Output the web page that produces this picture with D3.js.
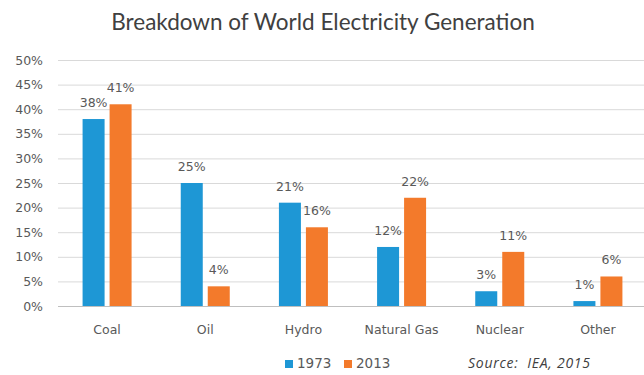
<!DOCTYPE html>
<html>
<head>
<meta charset="utf-8">
<script src="https://cdn.jsdelivr.net/npm/d3@7"></script>
<style>
  html, body { margin: 0; padding: 0; background: #fff; }
  svg { display: block; }
</style>
</head>
<body>
<svg id="chart" width="644" height="375"></svg>
<script>
// World electricity generation shares by source (percent)
const categories = ["Coal", "Oil", "Hydro", "Natural Gas", "Nuclear", "Other"];
const seriesNames = ["1973", "2013"];
const values1973 = [38, 25, 21, 12, 3, 1];
const values2013 = [41, 4, 16, 22, 11, 6];
const yTicks = [0, 5, 10, 15, 20, 25, 30, 35, 40, 45, 50];
const colors = ["#1E97D5", "#F37A2B"];

const svg = d3.select("#chart");
const textColor = "#595959";
const baseFont = "'DejaVu Sans', Verdana, sans-serif";

const x = d3.scaleBand().domain(categories).range([58, 647]).paddingInner(0).paddingOuter(0);
const xSub = d3.scaleBand().domain(seriesNames).range([0, 49]).paddingInner(0.185);
const y = d3.scaleLinear().domain([0, 50]).range([306, 60]);

// Title
svg.append("text")
  .attr("x", 323).attr("y", 30)
  .attr("text-anchor", "middle")
  .attr("font-family", "Lato, 'Open Sans', sans-serif")
  .attr("font-size", 22.5)
  .attr("fill", "#404040")
  .text("Breakdown of World Electricity Generation");

// Horizontal gridlines and y tick labels
const yAxis = d3.axisLeft(y).tickValues(yTicks).tickSize(-(644 - 58)).tickFormat(d => d + "%").tickPadding(15);
const gY = svg.append("g").attr("transform", "translate(58,0)").call(yAxis);
gY.select(".domain").remove();
gY.selectAll(".tick line").attr("stroke", "#d9d9d9").attr("stroke-width", 1);
gY.selectAll(".tick text")
  .attr("font-family", baseFont).attr("font-size", 12.5).attr("fill", textColor);
gY.selectAll(".tick").filter(d => d === 0).select("line").attr("stroke", "#bfbfbf");

// Category axis labels
const xAxis = d3.axisBottom(x).tickSize(0).tickPadding(19);
const gX = svg.append("g").attr("transform", "translate(0,306)").call(xAxis);
gX.select(".domain").remove();
gX.selectAll(".tick text")
  .attr("font-family", baseFont).attr("font-size", 12.5).attr("fill", textColor);

// Bars and value labels
const rows = categories.map((c, i) => ({ cat: c, vals: [values1973[i], values2013[i]] }));
const groups = svg.append("g").selectAll("g.cat").data(rows).join("g")
  .attr("class", "cat")
  .attr("transform", d => `translate(${x(d.cat) + x.bandwidth() / 2 - 24.5},0)`);

groups.selectAll("rect").data(d => d.vals.map((v, j) => ({ s: seriesNames[j], v, j }))).join("rect")
  .attr("x", d => xSub(d.s))
  .attr("y", d => y(d.v))
  .attr("width", xSub.bandwidth())
  .attr("height", d => y(0) - y(d.v))
  .attr("fill", d => colors[d.j]);

groups.selectAll("text.val").data(d => d.vals.map((v, j) => ({ s: seriesNames[j], v, j }))).join("text")
  .attr("class", "val")
  .attr("x", d => xSub(d.s) + xSub.bandwidth() / 2)
  .attr("y", d => y(d.v) - 12)
  .attr("text-anchor", "middle")
  .attr("font-family", baseFont).attr("font-size", 12.5)
  .attr("fill", textColor)
  .text(d => d.v + "%");

// Legend
const legend = svg.append("g").attr("transform", "translate(285,368)");
const legendX = [0, 59];
seriesNames.forEach((s, j) => {
  legend.append("rect")
    .attr("x", legendX[j]).attr("y", -8)
    .attr("width", 8).attr("height", 8)
    .attr("fill", colors[j]);
  legend.append("text")
    .attr("x", legendX[j] + 12).attr("y", 0)
    .attr("font-family", baseFont).attr("font-size", 13.5)
    .attr("fill", textColor)
    .text(s);
});

// Source note
svg.append("text")
  .attr("x", 468).attr("y", 368)
  .attr("font-family", "'Open Sans', sans-serif")
  .attr("font-style", "italic")
  .attr("font-size", 14)
  .attr("fill", "#404040")
  .style("white-space", "pre")
  .attr("textLength", 122)
  .attr("lengthAdjust", "spacing")
  .text("Source:  IEA, 2015");
</script>
</body>
</html>
